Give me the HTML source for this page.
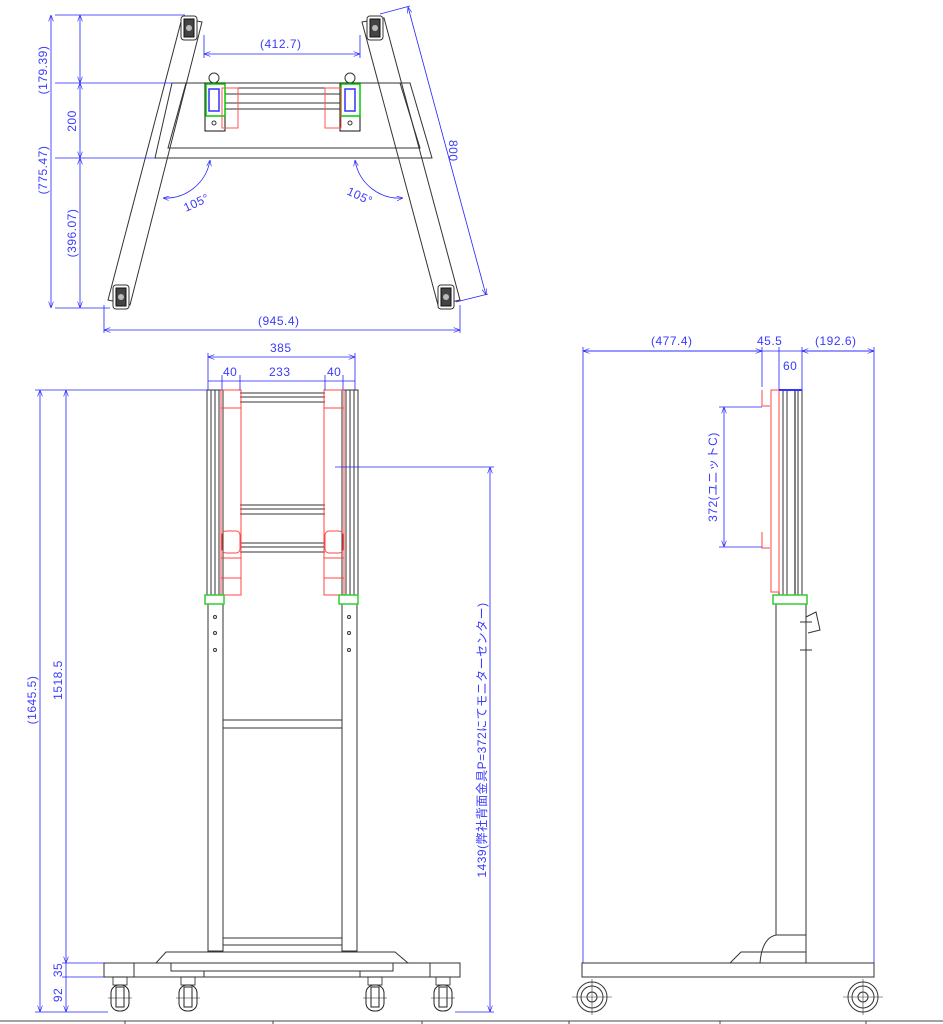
<!DOCTYPE html>
<html><head><meta charset="utf-8"><style>
html,body{margin:0;padding:0;background:#fff;}
svg{display:block;}
text{font-family:"Liberation Sans","Noto Sans CJK JP",sans-serif;fill:#3a3aff;font-size:12px;letter-spacing:0.5px;}
</style></head><body>
<svg width="943" height="1024" viewBox="0 0 943 1024" xmlns="http://www.w3.org/2000/svg">
<defs>
<marker id="a" markerWidth="8" markerHeight="6" refX="8" refY="3" orient="auto-start-reverse"><path d="M0,0 L8,3 L0,6" fill="none" stroke="#22f" stroke-width="0.8"/></marker>
<g id="cast"><rect x="-7" y="0" width="14" height="8" fill="none" stroke="#222" stroke-width="0.8"/><rect x="-9" y="8" width="18" height="26" rx="8" fill="#fff" stroke="#222" stroke-width="1"/><rect x="-4" y="10" width="8" height="20" fill="none" stroke="#222" stroke-width="1"/><line x1="-12" y1="21" x2="12" y2="21" stroke="#222" stroke-width="0.6"/></g>
<g id="wheel"><circle r="15" fill="none" stroke="#333"/><circle r="11" fill="none" stroke="#333"/><circle r="5" fill="none" stroke="#333"/><line x1="-20" y1="0" x2="20" y2="0" stroke="#333" stroke-width="0.6"/><line x1="0" y1="-18" x2="0" y2="18" stroke="#333" stroke-width="0.6"/></g>
<g id="tc"><rect x="-8" y="-12" width="16" height="24" rx="3" fill="#fff" stroke="#333"/><rect x="-5" y="-9" width="10" height="18" fill="#444" stroke="#111"/><circle r="3" fill="#bbb"/></g>
</defs>
<g fill="none" stroke-width="1">
<!-- TOP VIEW -->
<g stroke="#333">
<polygon points="182,18 202,22 130,305 108,300"/>
<polygon points="362,22 384,18 460,300 438,305"/>
<polygon points="172,83 410,83 432,158 155,158"/>
<polyline points="186,83 168,148 420,148 400,83"/>
<rect x="205" y="83" width="20" height="48" stroke="#111"/>
<rect x="340" y="83" width="20" height="48" stroke="#111"/>
<line x1="225" y1="88" x2="340" y2="88"/><line x1="225" y1="94" x2="340" y2="94"/><line x1="225" y1="103" x2="340" y2="103"/><line x1="225" y1="109" x2="340" y2="109"/>
<circle cx="214" cy="78" r="5"/><circle cx="350" cy="78" r="5"/>
<circle cx="214" cy="123" r="2"/><circle cx="350" cy="123" r="2"/>
</g>
<rect x="206" y="84" width="19" height="32" stroke="#0c0" stroke-width="1.5"/>
<rect x="341" y="84" width="19" height="32" stroke="#0c0" stroke-width="1.5"/>
<rect x="209" y="89" width="10" height="22" stroke="#33f" stroke-width="1.5"/>
<rect x="345" y="89" width="10" height="22" stroke="#33f" stroke-width="1.5"/>
<rect x="222" y="88" width="16" height="40" stroke="#f55"/>
<rect x="325" y="88" width="16" height="40" stroke="#f55"/>
<use href="#tc" x="189" y="28"/><use href="#tc" x="375" y="28"/><use href="#tc" x="121" y="297"/><use href="#tc" x="446" y="297"/>
<!-- top view dims -->
<g stroke="#22f" stroke-width="0.8">
<line x1="55" y1="15" x2="185" y2="15"/><line x1="55" y1="83" x2="172" y2="83"/><line x1="55" y1="158" x2="155" y2="158"/><line x1="55" y1="308" x2="110" y2="308"/>
<line x1="51" y1="15" x2="51" y2="308" marker-start="url(#a)" marker-end="url(#a)"/>
<line x1="80" y1="15" x2="80" y2="83" marker-start="url(#a)" marker-end="url(#a)"/>
<line x1="80" y1="83" x2="80" y2="158" marker-start="url(#a)" marker-end="url(#a)"/>
<line x1="80" y1="158" x2="80" y2="308" marker-start="url(#a)" marker-end="url(#a)"/>
<line x1="204" y1="35" x2="204" y2="58"/><line x1="360" y1="35" x2="360" y2="58"/>
<line x1="204" y1="54" x2="360" y2="54" marker-start="url(#a)" marker-end="url(#a)"/>
<line x1="104" y1="305" x2="104" y2="333"/><line x1="460" y1="305" x2="460" y2="333"/>
<line x1="104" y1="330" x2="460" y2="330" marker-start="url(#a)" marker-end="url(#a)"/>
<line x1="380" y1="14" x2="410" y2="6"/><line x1="456" y1="302" x2="488" y2="294"/>
<line x1="408" y1="7" x2="486" y2="295" marker-start="url(#a)" marker-end="url(#a)"/>
<path d="M210,160 A45,45 0 0 1 163,198" marker-start="url(#a)" marker-end="url(#a)"/>
<path d="M355,160 A45,45 0 0 0 403,198" marker-start="url(#a)" marker-end="url(#a)"/>
</g>
<!-- FRONT VIEW -->
<g stroke="#333">
<rect x="207" y="390" width="16" height="205"/><line x1="211" y1="390" x2="211" y2="595"/><line x1="215" y1="390" x2="215" y2="595"/><line x1="219" y1="390" x2="219" y2="595"/>
<rect x="342" y="390" width="16" height="205"/><line x1="346" y1="390" x2="346" y2="595"/><line x1="350" y1="390" x2="350" y2="595"/><line x1="354" y1="390" x2="354" y2="595"/>
<line x1="240" y1="393" x2="325" y2="393"/><line x1="240" y1="397" x2="325" y2="397"/><line x1="240" y1="402" x2="325" y2="402"/>
<line x1="240" y1="505" x2="325" y2="505"/><line x1="240" y1="509" x2="325" y2="509"/><line x1="240" y1="514" x2="325" y2="514"/>
<line x1="240" y1="543" x2="325" y2="543"/><line x1="240" y1="547" x2="325" y2="547"/><line x1="240" y1="552" x2="325" y2="552"/>
<rect x="208" y="604" width="15" height="347"/><rect x="342" y="604" width="15" height="347"/>
<line x1="223" y1="720" x2="342" y2="720"/><line x1="223" y1="728" x2="342" y2="728"/>
<line x1="223" y1="938" x2="342" y2="938"/><line x1="223" y1="945" x2="342" y2="945"/>
<polygon points="166,952 395,952 408,963 156,963"/>
<rect x="104" y="963" width="356" height="14"/>
<rect x="171" y="963" width="222" height="8"/>
<line x1="134" y1="963" x2="134" y2="977"/><line x1="430" y1="963" x2="430" y2="977"/>
<line x1="204" y1="977" x2="204" y2="971"/><line x1="360" y1="977" x2="360" y2="971"/>
<circle cx="215" cy="617" r="1.5"/><circle cx="215" cy="633" r="1.5"/><circle cx="215" cy="650" r="1.5"/>
<circle cx="349" cy="617" r="1.5"/><circle cx="349" cy="633" r="1.5"/><circle cx="349" cy="650" r="1.5"/>
</g>
<g stroke="#f44"><rect x="221" y="390" width="20" height="205"/><rect x="324" y="390" width="20" height="205"/>
<line x1="221" y1="408" x2="241" y2="408"/><line x1="324" y1="408" x2="344" y2="408"/>
<rect x="222" y="531" width="18" height="22" rx="4"/><rect x="325" y="531" width="18" height="22" rx="4"/>
<line x1="221" y1="558" x2="241" y2="558"/><line x1="324" y1="558" x2="344" y2="558"/>
<line x1="221" y1="578" x2="241" y2="578"/><line x1="324" y1="578" x2="344" y2="578"/></g>
<rect x="205" y="595" width="19" height="9" stroke="#3c3" stroke-width="1.5"/>
<rect x="339" y="595" width="19" height="9" stroke="#3c3" stroke-width="1.5"/>
<use href="#cast" x="120" y="977"/><use href="#cast" x="188" y="977"/><use href="#cast" x="375" y="977"/><use href="#cast" x="443" y="977"/>
<!-- front dims -->
<g stroke="#22f" stroke-width="0.8">
<line x1="208" y1="353" x2="208" y2="390"/><line x1="355" y1="353" x2="355" y2="390"/>
<line x1="208" y1="357" x2="355" y2="357" marker-start="url(#a)" marker-end="url(#a)"/>
<line x1="222" y1="375" x2="222" y2="390"/><line x1="240" y1="375" x2="240" y2="390"/><line x1="325" y1="375" x2="325" y2="390"/><line x1="343" y1="375" x2="343" y2="390"/>
<line x1="208" y1="381" x2="355" y2="381"/>
<line x1="35" y1="390" x2="207" y2="390"/>
<line x1="40" y1="390" x2="40" y2="1012" marker-start="url(#a)" marker-end="url(#a)"/>
<line x1="66" y1="390" x2="66" y2="963" marker-start="url(#a)" marker-end="url(#a)"/>
<line x1="62" y1="963" x2="104" y2="963"/><line x1="62" y1="977" x2="104" y2="977"/>
<line x1="66" y1="963" x2="66" y2="977"/>
<line x1="66" y1="977" x2="66" y2="1012" marker-end="url(#a)"/>
<line x1="35" y1="1012" x2="108" y2="1012"/>
<line x1="335" y1="467" x2="494" y2="467"/>
<line x1="490" y1="467" x2="490" y2="1012" marker-start="url(#a)" marker-end="url(#a)"/>
<line x1="455" y1="1012" x2="494" y2="1012"/>
</g>
<!-- SIDE VIEW -->
<g stroke="#333">
<rect x="779" y="390" width="23" height="205"/><line x1="783" y1="390" x2="783" y2="595"/><line x1="787" y1="390" x2="787" y2="595"/><line x1="795" y1="390" x2="795" y2="595" stroke="#000"/><line x1="798" y1="390" x2="798" y2="595"/>
<rect x="776" y="604" width="30" height="331"/>
<path d="M776,935 L806,935 L806,963 M760,963 Q762,938 776,935 M730,963 L741,952 L806,952"/>
<rect x="582" y="963" width="292" height="14"/>
<path d="M806,617 L816,612 L820,630 L808,633"/>
<line x1="800" y1="622" x2="812" y2="622"/><line x1="800" y1="650" x2="812" y2="650"/>
</g>
<g stroke="#f44"><rect x="771" y="390" width="8" height="202"/><path d="M762,390 L762,406 L770,406 M762,532 L762,548 L770,548"/></g>
<rect x="773" y="595" width="34" height="9" stroke="#3c3" stroke-width="1.5"/>
<line x1="779" y1="390" x2="802" y2="390" stroke="#33f" stroke-width="2"/>
<use href="#wheel" x="592" y="997"/><use href="#wheel" x="863" y="997"/>
<g stroke="#22f" stroke-width="0.8">
<line x1="583" y1="347" x2="583" y2="963"/><line x1="874" y1="347" x2="874" y2="963"/>
<line x1="762" y1="347" x2="762" y2="387"/><line x1="779" y1="347" x2="779" y2="390"/><line x1="802" y1="347" x2="802" y2="390"/>
<line x1="583" y1="351" x2="874" y2="351"/>
<line x1="583" y1="351" x2="762" y2="351" marker-start="url(#a)" marker-end="url(#a)"/>
<line x1="802" y1="351" x2="874" y2="351" marker-start="url(#a)" marker-end="url(#a)"/>
<line x1="719" y1="407" x2="762" y2="407"/><line x1="719" y1="547" x2="762" y2="547"/>
<line x1="724" y1="407" x2="724" y2="547" marker-start="url(#a)" marker-end="url(#a)"/>
</g>
<!-- bottom table -->
<g stroke="#444"><line x1="0" y1="1021" x2="943" y2="1021"/>
<line x1="125" y1="1021" x2="125" y2="1024"/><line x1="273" y1="1021" x2="273" y2="1024"/><line x1="422" y1="1021" x2="422" y2="1024"/><line x1="569" y1="1021" x2="569" y2="1024"/><line x1="720" y1="1021" x2="720" y2="1024"/><line x1="866" y1="1021" x2="866" y2="1024"/></g>
</g>
<!-- texts -->
<text x="260" y="48">(412.7)</text>
<text x="258" y="325">(945.4)</text>
<text x="0" y="0" transform="translate(449,140) rotate(90)">800</text>
<text x="0" y="0" transform="translate(186,212) rotate(-25)">105°</text>
<text x="0" y="0" transform="translate(346,194) rotate(25)">105°</text>
<text x="0" y="0" transform="translate(47,70) rotate(-90)" text-anchor="middle">(179.39)</text>
<text x="0" y="0" transform="translate(76,121) rotate(-90)" text-anchor="middle">200</text>
<text x="0" y="0" transform="translate(47,170) rotate(-90)" text-anchor="middle">(775.47)</text>
<text x="0" y="0" transform="translate(76,233) rotate(-90)" text-anchor="middle">(396.07)</text>
<text x="270" y="352">385</text>
<text x="223" y="376">40</text><text x="269" y="376">233</text><text x="327" y="376">40</text>
<text x="0" y="0" transform="translate(36,700) rotate(-90)" text-anchor="middle">(1645.5)</text>
<text x="0" y="0" transform="translate(62,680) rotate(-90)" text-anchor="middle">1518.5</text>
<text x="0" y="0" transform="translate(62,970) rotate(-90)" text-anchor="middle">35</text>
<text x="0" y="0" transform="translate(62,995) rotate(-90)" text-anchor="middle">92</text>
<text x="0" y="0" transform="translate(486,740) rotate(-90)" text-anchor="middle">1439(弊社背面金具P=372にてモニターセンター)</text>
<text x="651" y="345">(477.4)</text>
<text x="757" y="345">45.5</text>
<text x="815" y="345">(192.6)</text>
<text x="783" y="370">60</text>
<text x="0" y="0" transform="translate(717,477) rotate(-90)" text-anchor="middle">372(ユニットC)</text>
</svg>
</body></html>
